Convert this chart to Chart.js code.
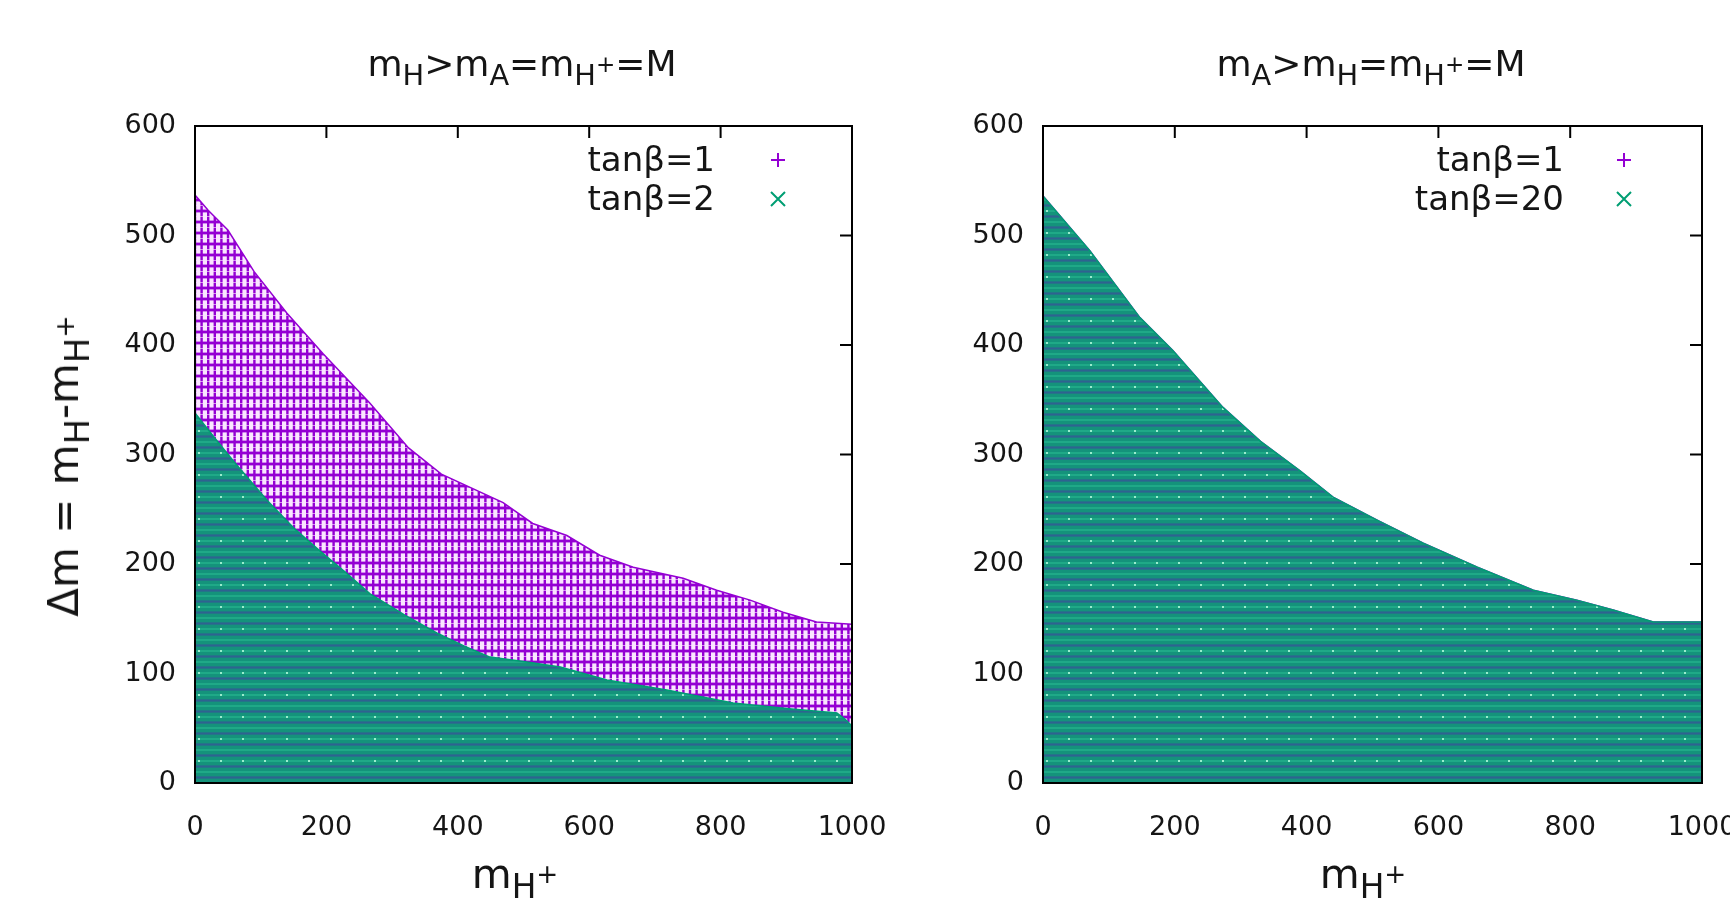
<!DOCTYPE html>
<html>
<head>
<meta charset="utf-8">
<script src="https://cdn.jsdelivr.net/npm/chart.js@4.4.1/dist/chart.umd.min.js"></script>
<style>
  html, body { margin: 0; padding: 0; }
  body { width: 1730px; height: 907px; overflow: hidden; background: #fff; position: relative;
         font-family: "DejaVu Sans", sans-serif; color: #151515; }
  .panel { position: absolute; top: 0; width: 940px; height: 907px; }
  .lbl { position: absolute; white-space: nowrap; line-height: 1; transform: translate(-50%, -50%); }
  .lbl sub { font-size: 0.8em; vertical-align: -0.32em; line-height: 0; }
  .lbl sub sup { font-size: 0.8em; vertical-align: 0.55em; line-height: 0; }
  .ttl { font-size: 36px; top: 64px; }
  .xl { font-size: 41px; top: 874px; }
  .yl { font-size: 42px; left: 64px; top: 466px; transform: translate(-50%, -50%) rotate(-90deg); }
</style>
</head>
<body>

<div class="panel" style="left:0"><canvas id="left-panel" width="940" height="907"></canvas></div>
<div class="panel" style="left:880px"><canvas id="right-panel" width="940" height="907"></canvas></div>

<div class="lbl ttl" style="left:522px">m<sub>H</sub>&gt;m<sub>A</sub>=m<sub>H<sup>+</sup></sub>=M</div>
<div class="lbl ttl" style="left:1371px">m<sub>A</sub>&gt;m<sub>H</sub>=m<sub>H<sup>+</sup></sub>=M</div>
<div class="lbl xl" style="left:515px">m<sub>H<sup>+</sup></sub></div>
<div class="lbl xl" style="left:1363px">m<sub>H<sup>+</sup></sub></div>
<div class="lbl yl">Δm = m<sub>H</sub>-m<sub>H<sup>+</sup></sub></div>

<script>
// upper edge of each allowed region
// left: mH > mA = mH+ = M
const mLeft1 = [0, 20, 50, 90, 140, 195, 266, 325, 375, 469, 514, 566, 616, 667, 743, 794, 845, 895, 946, 1000];
const dmLeft1 = [537, 523, 505, 467, 429, 392, 347, 306, 282, 256, 237, 226, 208, 197, 187, 176, 167, 156, 147, 145];
const mLeft2 = [0, 30, 60, 90, 110, 150, 190, 230, 266, 320, 368, 410, 449, 500, 556, 627, 718, 819, 900, 977, 990, 1000];
const dmLeft2 = [338, 315, 293, 272, 258, 233, 212, 192, 173, 153, 137, 125, 115, 111, 106, 94, 85, 73, 68, 64, 58, 52];

// right: mA > mH = mH+ = M
const mRight = [0, 71, 147, 197, 273, 330, 390, 440, 507, 577, 659, 744, 810, 865, 926, 1000];
const dmRight1 = [536, 486, 425, 395, 343, 312, 285, 261, 240, 219, 197, 176, 167, 158, 147, 147];
const dmRight20 = [536, 486, 425, 395, 343, 312, 285, 261, 240, 219, 197, 176, 167, 158, 147, 147];

const xTicks = [0, 200, 400, 600, 800, 1000];
const yTicks = [0, 100, 200, 300, 400, 500, 600];

const PURPLE = '#9400d3';
const GREEN = '#009e73';
const FONT = '"DejaVu Sans", sans-serif';

function pts(xs, ys) {
  return xs.map((x, i) => ({ x: x, y: ys[i] }));
}

// gnuplot-like texture of dense point markers
function makeTile(kind) {
  const c = document.createElement('canvas');
  c.width = 66; c.height = 66;
  const g = c.getContext('2d');
  if (kind === 'plus') {
    g.fillStyle = '#fae6ff';
    g.fillRect(0, 0, 66, 66);
    g.fillStyle = PURPLE;
    for (let r = 0; r <= 6; r++) g.fillRect(0, r * 11 - 1.4, 66, 2.8);
    for (let k = 0; k <= 10; k++) {
      for (let r = 0; r <= 6; r++) g.fillRect(k * 6.6 - 1.2, r * 11 - 5.2, 2.4, 10.4);
    }
  } else {
    g.fillStyle = '#14937b';
    g.fillRect(0, 0, 66, 66);
    g.fillStyle = '#2f6290';
    for (let r = 0; r <= 6; r++) g.fillRect(0, r * 11 + 4.4, 66, 2.2);
    g.fillStyle = '#1fa987';
    for (let r = 0; r <= 6; r++) g.fillRect(0, r * 11 - 1, 66, 2);
    g.fillStyle = '#9aeccd';
    for (let r = 0; r <= 3; r++) {
      for (let k = 0; k < 3; k++) g.fillRect(k * 22 + 3, r * 22 - 1, 2, 2);
    }
  }
  return c;
}

const patternCache = {};
function texture(ctx, kind) {
  const chart = ctx.chart;
  const area = chart.chartArea;
  if (!area) return kind === 'plus' ? PURPLE : GREEN;
  const key = chart.id + kind;
  if (!patternCache[key]) {
    patternCache[key] = chart.ctx.createPattern(makeTile(kind), 'repeat');
  }
  const p = patternCache[key];
  p.setTransform(new DOMMatrix([1, 0, 0, 1, area.left, area.bottom]));
  return p;
}

// border on top, inward mirror ticks underneath the points
const frame = {
  id: 'frame',
  beforeDatasetsDraw(chart) {
    const { ctx, chartArea: a, scales } = chart;
    ctx.save();
    ctx.strokeStyle = '#000';
    ctx.lineWidth = 2;
    ctx.beginPath();
    xTicks.slice(1, -1).forEach(v => {
      const x = scales.x.getPixelForValue(v);
      ctx.moveTo(x, a.bottom); ctx.lineTo(x, a.bottom - 12);
      ctx.moveTo(x, a.top); ctx.lineTo(x, a.top + 12);
    });
    yTicks.slice(1, -1).forEach(v => {
      const y = scales.y.getPixelForValue(v);
      ctx.moveTo(a.left, y); ctx.lineTo(a.left + 12, y);
      ctx.moveTo(a.right, y); ctx.lineTo(a.right - 12, y);
    });
    ctx.stroke();
    ctx.restore();
  },
  afterDatasetsDraw(chart) {
    const { ctx, chartArea: a } = chart;
    ctx.save();
    ctx.strokeStyle = '#000';
    ctx.lineWidth = 2;
    ctx.strokeRect(a.left, a.top, a.right - a.left, a.bottom - a.top);
    ctx.restore();
  }
};

// key in the top right corner: text, then the marker
const keyBox = {
  id: 'keyBox',
  afterDraw(chart, args, opts) {
    const { ctx, chartArea: a } = chart;
    const sets = chart.data.datasets.slice().sort((p, q) => p.keyRow - q.keyRow);
    ctx.save();
    ctx.font = '34px ' + FONT;
    ctx.textAlign = 'right';
    ctx.textBaseline = 'middle';
    sets.forEach((ds, i) => {
      const y = a.top + 34 + i * 39;
      ctx.fillStyle = '#151515';
      ctx.fillText(ds.label, a.right - opts.textRight, y + 2);
      const mx = a.right - opts.markX;
      ctx.strokeStyle = ds.borderColor;
      ctx.lineWidth = 2;
      ctx.beginPath();
      if (ds.keyMark === 'plus') {
        ctx.moveTo(mx - 7, y); ctx.lineTo(mx + 7, y);
        ctx.moveTo(mx, y - 7); ctx.lineTo(mx, y + 7);
      } else {
        ctx.moveTo(mx - 7, y - 7); ctx.lineTo(mx + 7, y + 7);
        ctx.moveTo(mx - 7, y + 7); ctx.lineTo(mx + 7, y - 7);
      }
      ctx.stroke();
    });
    ctx.restore();
  }
};

function region(label, xs, ys, kind, color, row, order) {
  return {
    label: label,
    data: pts(xs, ys),
    fill: 'origin',
    backgroundColor: (c) => texture(c, kind),
    borderColor: color,
    borderWidth: 1.5,
    pointRadius: 0,
    tension: 0,
    order: order,
    keyRow: row,
    keyMark: kind
  };
}

function panelConfig(datasets, areaLeft, padRight, textRight, markX) {
  return {
    type: 'line',
    data: { datasets: datasets },
    options: {
      responsive: false,
      animation: false,
      devicePixelRatio: 1,
      layout: { padding: { top: 126, right: padRight, left: 0, bottom: 0 } },
      plugins: {
        legend: { display: false },
        tooltip: { enabled: false },
        keyBox: { textRight: textRight, markX: markX }
      },
      scales: {
        x: {
          type: 'linear', min: 0, max: 1000,
          afterFit: (s) => { s.height = 124; },
          afterBuildTicks: (s) => { s.ticks = xTicks.map(v => ({ value: v })); },
          grid: { display: false, drawTicks: false },
          border: { display: false },
          ticks: {
            padding: 29, color: '#151515', font: { family: FONT, size: 27 }, maxRotation: 0,
            callback: (v) => String(v)
          }
        },
        y: {
          min: 0, max: 600,
          afterFit: (s) => { s.width = areaLeft; },
          afterBuildTicks: (s) => { s.ticks = yTicks.map(v => ({ value: v })); },
          grid: { display: false, drawTicks: false },
          border: { display: false },
          ticks: { padding: 19, color: '#151515', font: { family: FONT, size: 27 }, callback: (v) => String(v) }
        }
      }
    },
    plugins: [frame, keyBox]
  };
}

const leftChart = new Chart(
  document.getElementById('left-panel'),
  panelConfig([
    region('tanβ=1', mLeft1, dmLeft1, 'plus', PURPLE, 0, 1),
    region('tanβ=2', mLeft2, dmLeft2, 'cross', GREEN, 1, 0)
  ], 195, 88, 137, 74)
);

const rightChart = new Chart(
  document.getElementById('right-panel'),
  panelConfig([
    region('tanβ=1', mRight, dmRight1, 'plus', PURPLE, 0, 1),
    region('tanβ=20', mRight, dmRight20, 'cross', GREEN, 1, 0)
  ], 163, 118, 138, 78)
);
</script>
</body>
</html>
